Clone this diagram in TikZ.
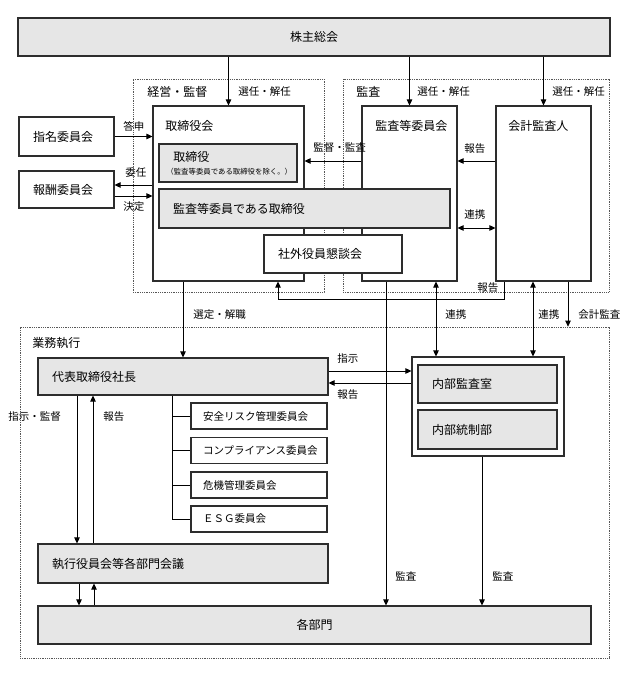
\documentclass[tikz,border=0pt]{standalone}
\usepackage{fontspec}
\newfontfamily\jpfont{Noto Sans CJK JP}
\usetikzlibrary{arrows.meta}
\definecolor{boxgrey}{RGB}{230,230,230}
\definecolor{edge}{RGB}{45,45,45}
\tikzset{
  box/.style={draw=edge, line width=1.1pt, fill=white, inner sep=0pt, font=\jpfont\fontsize{12}{14}\selectfont},
  gbox/.style={box, fill=boxgrey},
  cbox/.style={box, minimum width=136pt, minimum height=26pt, text width=112pt, font=\jpfont\fontsize{10.5}{12}\selectfont},
  area/.style={draw=edge!80, line width=0.7pt, dash pattern=on 1pt off 0.8pt, inner sep=0pt},
  ttl/.style={inner sep=0pt, anchor=west, font=\jpfont\fontsize{12}{14}\selectfont},
  lbl/.style={inner sep=0pt, anchor=west, font=\jpfont\fontsize{10.5}{12}\selectfont},
}
\begin{document}
\begin{tikzpicture}[x=1pt, y=-1pt, line width=0.8pt, >={Triangle[length=6pt,width=5.5pt]}]
  \useasboundingbox (0,0) rectangle (630,676);
  \node[area, minimum width=191pt, minimum height=213pt] (mgmt) at (228.5,185.5) {};
  \node[area, minimum width=266pt, minimum height=213pt] (audit) at (476,185.5) {};
  \node[area, minimum width=589pt, minimum height=331pt] (exe) at (314.5,492.5) {};
  \node[ttl] (mgmtt) at (147,92) {経営・監督};
  \node[ttl] (auditt) at (356,92) {監査};
  \node[ttl] (exet) at (32,343) {業務執行};

  \node[gbox, minimum width=592pt, minimum height=38pt] (gm) at (314,37) {株主総会};
  \node[box, minimum width=95pt, minimum height=39pt, text width=67pt] (nom) at (66.5,136.5) {指名委員会};
  \node[box, minimum width=95pt, minimum height=37pt, text width=67pt] (rem) at (66.5,189.5) {報酬委員会};
  \node[box, minimum width=151pt, minimum height=175pt] (bod) at (228.5,193.5) {};
  \node[box, minimum width=95pt, minimum height=175pt] (ac) at (409.5,193.5) {};
  \node[box, minimum width=95pt, minimum height=175pt] (aud) at (543.5,193.5) {};
  \node[ttl] (bodt) at (165,126) {取締役会};
  \node[ttl] (act) at (375,126) {監査等委員会};
  \node[ttl] (audt) at (508,126) {会計監査人};
  \node[gbox, minimum width=138pt, minimum height=38pt] (dir) at (228,163) {};
  \node[ttl] (dirt) at (173,157) {取締役};
  \node[inner sep=0pt, anchor=west, font=\jpfont\fontsize{7.4}{8}\selectfont] (dirn) at (166,172) {（監査等委員である取締役を除く。）};
  \node[gbox, minimum width=291pt, minimum height=39pt, text width=263pt] (acdir) at (304.5,208.5) {監査等委員である取締役};
  \node[box, minimum width=138pt, minimum height=38pt, text width=110pt] (outdir) at (333,254) {社外役員懇談会};

  \node[gbox, minimum width=290pt, minimum height=37pt, text width=262pt] (ceo) at (183,376.5) {代表取締役社長};
  \node[cbox] (c1) at (259,416) {安全リスク管理委員会};
  \node[cbox] (c2) at (259,450.5) {コンプライアンス委員会};
  \node[cbox] (c3) at (259,485) {危機管理委員会};
  \node[cbox] (c4) at (259,519) {ＥＳＧ委員会};
  \node[box, minimum width=152pt, minimum height=99pt] (ia) at (488,406.5) {};
  \node[gbox, minimum width=139pt, minimum height=38pt, text width=111pt] (ias) at (487.5,384) {内部監査室};
  \node[gbox, minimum width=139pt, minimum height=39pt, text width=111pt] (ic) at (487.5,429.5) {内部統制部};
  \node[gbox, minimum width=290pt, minimum height=39pt, text width=262pt] (mtg) at (183,563.5) {執行役員会等各部門会議};
  \node[gbox, minimum width=553pt, minimum height=38pt] (depts) at (314.5,625) {各部門};

  \draw[->] (gm.south -| bod.north) -- (bod.north);
  \draw[->] (gm.south -| ac.north) -- (ac.north);
  \draw[->] (gm.south -| aud.north) -- (aud.north);
  \draw[->] (nom.east) -- (nom.east -| bod.west);
  \draw[->] ([yshift=4.5pt]rem.east -| bod.west) -- ([yshift=4.5pt]rem.east);
  \draw[->] ([yshift=-6.5pt]rem.east) -- ([yshift=-6.5pt]rem.east -| bod.west);
  \draw[->] ([yshift=32.5pt]ac.west) -- ([yshift=32.5pt]ac.west -| bod.east);
  \draw[->] ([yshift=32.5pt]aud.west) -- ([yshift=32.5pt]aud.west -| ac.east);
  \draw[<->] ([yshift=-34.5pt]ac.east) -- ([yshift=-34.5pt]ac.east -| aud.west);
  \draw[->] ([xshift=-39.5pt]aud.south) -- ++(0,18) -| ([xshift=49.5pt]bod.south);
  \draw[->] (bod.south -| ceo.north) -- (ceo.north);
  \draw[<->] ([xshift=26.5pt]ac.south) -- ([xshift=26.5pt]ac.south |- ia.north);
  \draw[<->] ([xshift=-10.5pt]aud.south) -- ([xshift=-10.5pt]aud.south |- ia.north);
  \draw[->] ([xshift=24.5pt]aud.south) -- ([xshift=24.5pt]aud.south |- exe.north);
  \draw[->] ([xshift=-23.5pt]ac.south) -- ([xshift=-23.5pt]ac.south |- depts.north);
  \draw[->] ([xshift=-6pt]ia.south) -- ([xshift=-6pt]ia.south |- depts.north);
  \draw[->] ([yshift=5.5pt]ceo.east) -- ([yshift=5.5pt]ceo.east -| ia.west);
  \draw[->] ([yshift=-6.5pt]ceo.east -| ia.west) -- ([yshift=-6.5pt]ceo.east);
  \draw[->] ([xshift=-106pt]ceo.south) -- ([xshift=-106pt]ceo.south |- mtg.north);
  \draw[->] ([xshift=-90pt]ceo.south |- mtg.north) -- ([xshift=-90pt]ceo.south);
  \draw[->] ([xshift=-104pt]mtg.south) -- ([xshift=-104pt]mtg.south |- depts.north);
  \draw[->] ([xshift=-89pt]mtg.south |- depts.north) -- ([xshift=-89pt]mtg.south);
  \coordinate (trunk) at ([xshift=-11pt]ceo.south);
  \draw (trunk) |- (c4.west);
  \foreach \c in {c1,c2,c3} \draw (\c.west -| trunk) -- (\c.west);

  \node[lbl] (sel1) at (238,92) {選任・解任};
  \node[lbl] (sel2) at (417,92) {選任・解任};
  \node[lbl] (sel3) at (552,92) {選任・解任};
  \node[lbl] (toushin) at (123,126) {答申};
  \node[lbl] (inin) at (125,173) {委任};
  \node[lbl] (kettei) at (123,207) {決定};
  \node[lbl] (kantoku) at (313,148) {監督・監査};
  \node[lbl] (hok1) at (464,149) {報告};
  \node[lbl] (ren1) at (464,215) {連携};
  \node[lbl] (hok2) at (477,288) {報告};
  \node[lbl] (sentei) at (193,315) {選定・解職};
  \node[lbl] (ren2) at (445,315) {連携};
  \node[lbl] (ren3) at (538,315) {連携};
  \node[lbl] (kaikei) at (578,315) {会計監査};
  \node[lbl] (shiji) at (337,359) {指示};
  \node[lbl] (hok3) at (337,395) {報告};
  \node[lbl] (shijik) at (8,417) {指示・監督};
  \node[lbl] (hok4) at (103,417) {報告};
  \node[lbl] (kansa1) at (395,576) {監査};
  \node[lbl] (kansa2) at (492,576) {監査};
\end{tikzpicture}
\end{document}
